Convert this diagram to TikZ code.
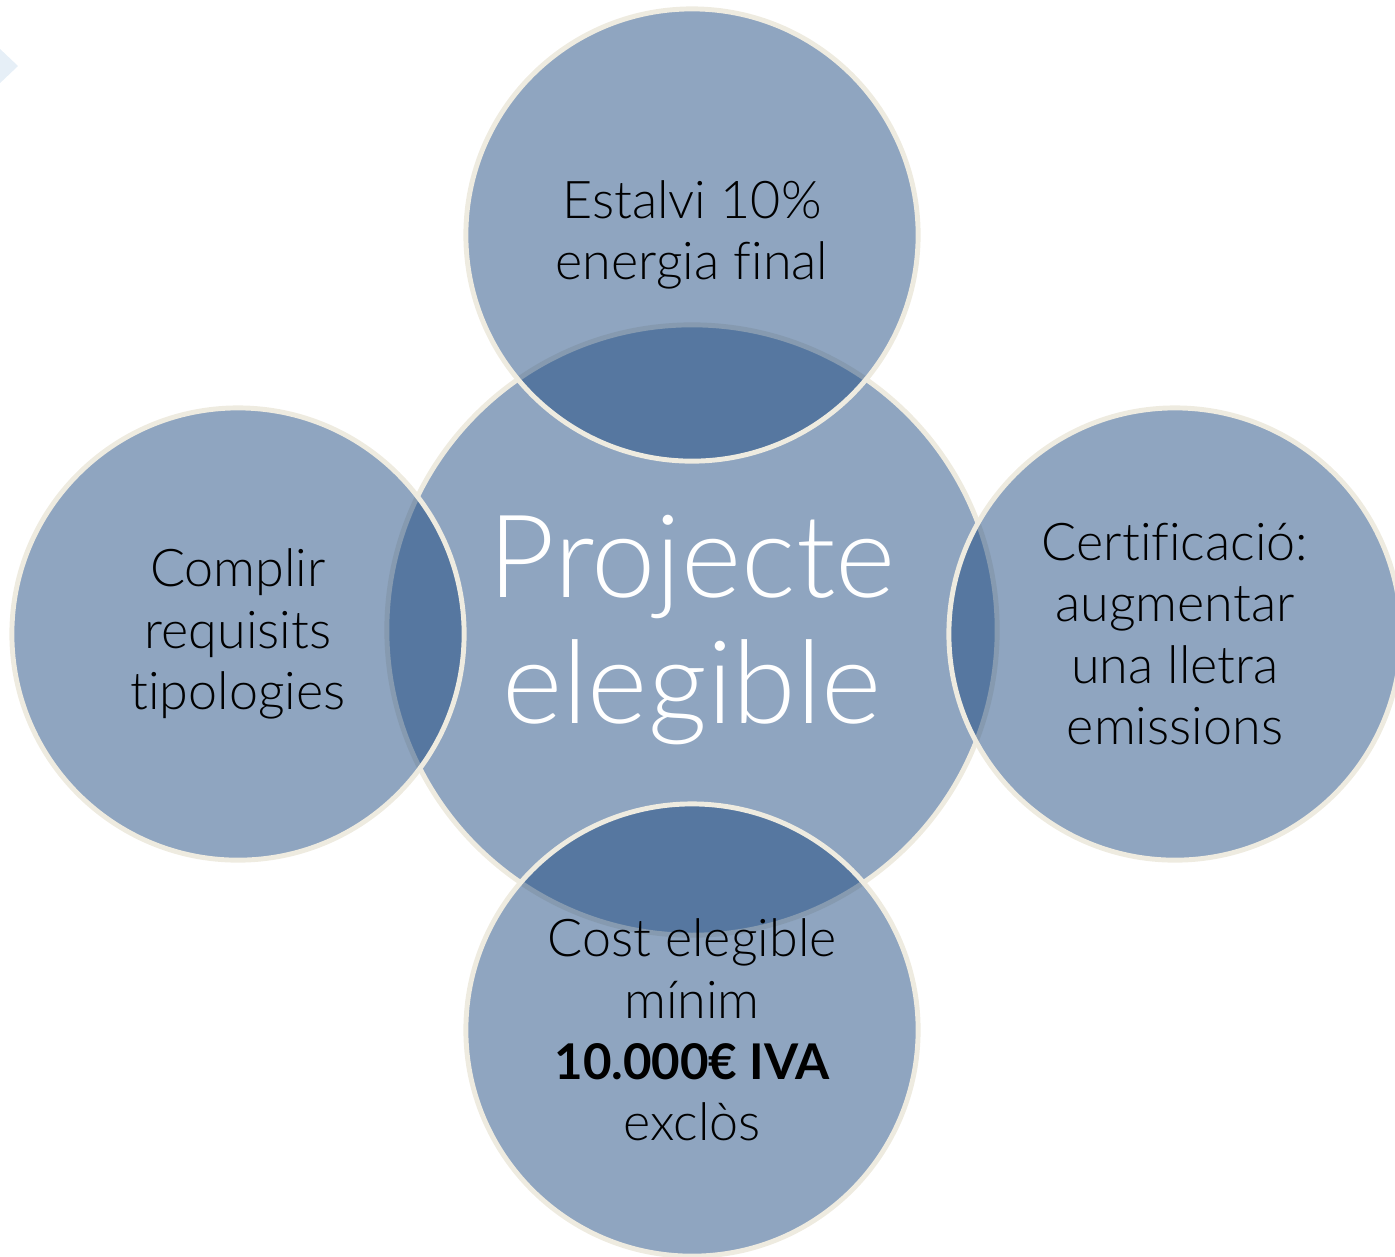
\documentclass[tikz,border=0pt]{standalone}
\usepackage{fontspec}
\usepackage{tikz}
\IfFontExistsTF{Lato Light}
	{\newfontfamily\discfont{Lato Light}[BoldFont={Lato Bold}, Ligatures={NoCommon}]}
	{\newfontfamily\discfont{Lato}[Ligatures={NoCommon}]}
\definecolor{circlefill}{RGB}{31,75,129}
\definecolor{circleline}{RGB}{238,235,224}
\definecolor{chevron}{RGB}{230,239,247}

\begin{document}
\begin{tikzpicture}[x=0.01cm,y=-0.01cm,
	disc/.style={circle, draw=circleline, line width=1.4pt, fill=circlefill, fill opacity=0.5, text opacity=1, inner sep=0pt, minimum size=4.52cm, align=center, font=\discfont\fontsize{14.8}{17.4}\selectfont}]
				\useasboundingbox (0,0) rectangle (1395,1256);
				\coordinate (Middle) at (692,630);
				\coordinate (Top)    at (692,235);
				\coordinate (Left)   at (238,634);
				\coordinate (Right)  at (1175,634);
				\coordinate (Bottom) at (692,1030);
				
				\fill [chevron] (-2,47) -- (18,66) -- (-2,85) --cycle;% corner arrow
				
				\node [disc, minimum size=6.1cm, text=white, font=\discfont\fontsize{32.8}{36.1}\selectfont] (Projecte) at (Middle) {Projecte\\elegible};
				
				\node [disc] (Estalvi) at (Top) {Estalvi 10\%\\energia final};
				\node [disc] (Complir) at (Left) {Complir\\requisits\\tipologies};
				\node [disc] (Certificacio) at (Right) {Certificació:\\augmentar\\una lletra\\emissions};
				\node [disc] (Cost) at (Bottom) {Cost elegible\\mínim\\{\fontsize{14}{17.4}\selectfont\bfseries 10.000€ IVA}\\exclòs};
				
				\end{tikzpicture}
\end{document}
